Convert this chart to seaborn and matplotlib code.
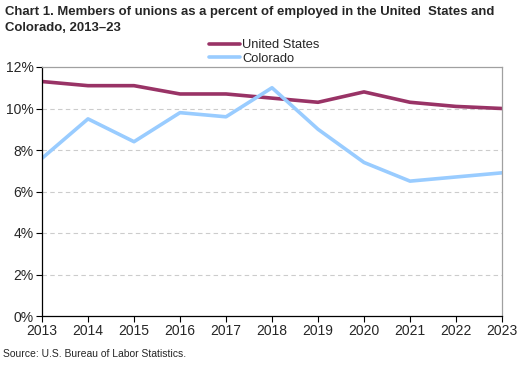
import matplotlib
matplotlib.use("Agg")
import matplotlib.pyplot as plt
import seaborn as sns
import pandas as pd
from matplotlib.ticker import FuncFormatter
from matplotlib.lines import Line2D

years = [2013, 2014, 2015, 2016, 2017, 2018, 2019, 2020, 2021, 2022, 2023]
us = [11.3, 11.1, 11.1, 10.7, 10.7, 10.5, 10.3, 10.8, 10.3, 10.1, 10.0]
colorado = [7.6, 9.5, 8.4, 9.8, 9.6, 11.0, 9.0, 7.4, 6.5, 6.7, 6.9]
series_names = ["United States", "Colorado"]
colors = ["#993366", "#99CCFF"]

df = pd.concat([
    pd.DataFrame({"Year": years, "Rate": us, "Series": series_names[0]}),
    pd.DataFrame({"Year": years, "Rate": colorado, "Series": series_names[1]}),
])

sns.set_style("white")
plt.rcParams["font.family"] = ["Liberation Sans", "DejaVu Sans"]

fig = plt.figure(figsize=(5.28, 3.65), dpi=100)
ax = fig.add_axes([42/528, 49/365, 460/528, 249/365])

sns.lineplot(data=df, x="Year", y="Rate", hue="Series", palette=colors,
             hue_order=series_names, linewidth=2.6, ax=ax, legend=False)

ax.set_xlim(2013, 2023)
ax.set_ylim(0, 12)
ax.set_xticks(years)
ax.set_yticks(range(0, 13, 2))
ax.yaxis.set_major_formatter(FuncFormatter(lambda v, p: f"{int(v)}%"))
ax.set_xlabel("")
ax.set_ylabel("")
for y in range(2, 12, 2):
    ax.axhline(y, color="#cccccc", linestyle=(0, (4, 3)), linewidth=0.8, zorder=0)

ax.spines["left"].set_color("black")
ax.spines["bottom"].set_color("black")
ax.spines["top"].set_color("#a0a0a0")
ax.spines["right"].set_color("#a0a0a0")
for s in ax.spines.values():
    s.set_linewidth(0.9)
ax.tick_params(axis="both", which="major", direction="out", length=4, width=0.8,
               color="black", labelsize=10, pad=2, left=True, bottom=True)

handles = [Line2D([0], [0], color=c, lw=2.6) for c in colors]
fig.legend(handles, series_names, loc="center", bbox_to_anchor=(264/528, 1 - 52/365),
           frameon=False, fontsize=9.3, handlelength=2.4, handletextpad=0.2,
           labelspacing=0.1, borderpad=0)

fig.text(5/528, 1 - 12/365, "Chart 1. Members of unions as a percent of employed in the United  States and",
         fontsize=9.45, fontweight="bold", va="center", ha="left")
fig.text(5/528, 1 - 28/365, "Colorado, 2013\u201323", fontsize=9.45, fontweight="bold",
         va="center", ha="left")
fig.text(3/528, 1 - 354/365, "Source: U.S. Bureau of Labor Statistics.", fontsize=7.5,
         va="center", ha="left")

fig.savefig("out.png", dpi=100)
